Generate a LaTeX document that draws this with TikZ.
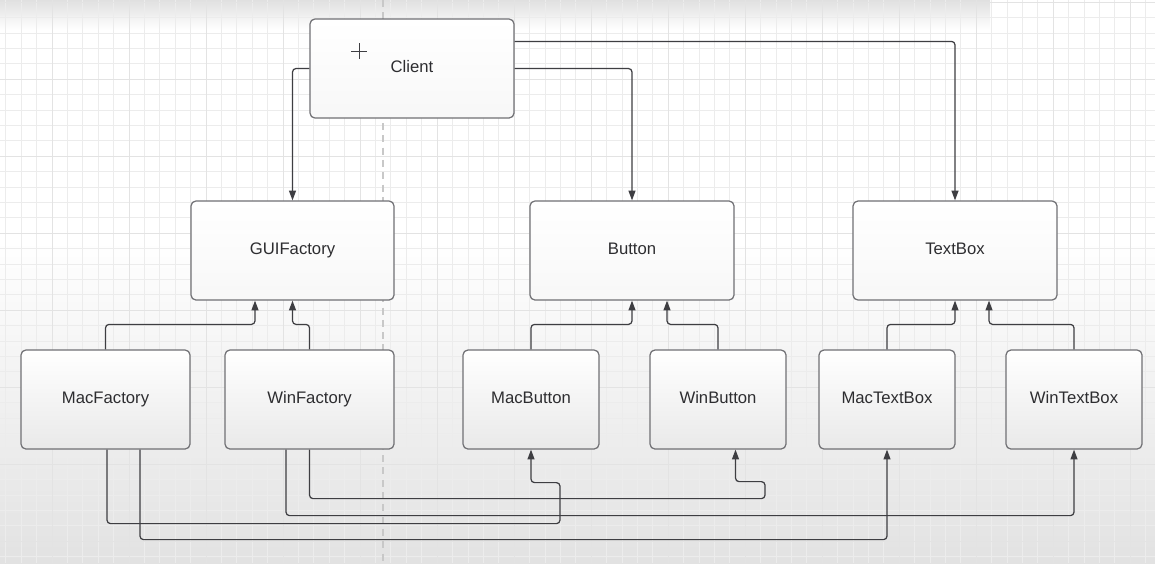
\documentclass[tikz,border=0pt]{standalone}
\usepackage{xcolor}
\usepackage{fontspec}
\setmainfont{Liberation Sans}
\usepackage{tikz}
\usetikzlibrary{arrows.meta, positioning, calc}
\definecolor{AFLine}{RGB}{62, 62, 66}
\definecolor{AFBorder}{RGB}{112, 112, 116}
\definecolor{AFText}{RGB}{45, 45, 48}
\definecolor{AFGrid}{RGB}{236, 236, 236}
\definecolor{AFGridMajor}{RGB}{227, 227, 227}
\definecolor{AFDash}{RGB}{200, 200, 200}
\definecolor{AFShade}{RGB}{226, 226, 226}
\definecolor{AFTopBand}{RGB}{224, 224, 224}
\definecolor{AFBoxLow}{RGB}{233, 233, 233}
\tikzset{
    classbox/.style={draw=AFBorder, line width=0.7pt, rounded corners=2.8pt, text=AFText,
      font=\fontsize{9.5}{11}\selectfont, minimum height=19.8mm, inner sep=0pt,
      text height=7pt, text depth=2pt},
    topbox/.style={classbox, top color=white, bottom color=white!97!black},
    lowbox/.style={classbox, top color=white, bottom color=AFBoxLow},
    link/.style={draw=AFLine, line width=0.7pt, rounded corners=2pt, -{Triangle[length=5.6pt, width=4pt]}},
    gridminor/.style={AFGrid, line width=0.35pt},
    gridmajor/.style={AFGridMajor, line width=0.5pt}
}

\begin{document}
\begin{tikzpicture}[x=0.2mm, y=-0.2mm]
    \path[use as bounding box] (0,0) rectangle (1155,563);
    \fill[white] (0,0) rectangle (1155,563);
    \shade[top color=white, bottom color=AFShade] (0,240) rectangle (1155,563);
    \shade[top color=AFTopBand, bottom color=white] (0,0) rectangle (990,30);
    \foreach \i in {0,...,74} {
        \draw[gridminor] ({5.8+15.4*\i},0) -- ++(0,563);
    }
    \foreach \i in {0,...,36} {
        \draw[gridminor] (0,{2+15.4*\i}) -- ++(1155,0);
    }
    \foreach \i in {0,...,14} {
        \draw[gridmajor] ({52+77*\i},0) -- ++(0,563);
    }
    \foreach \i in {0,...,7} {
        \draw[gridmajor] (0,{2+77*\i}) -- ++(1155,0);
    }
    \draw[AFDash, line width=0.7pt, dash pattern=on 4pt off 3pt] (383,0) -- (383,563);

    \node[topbox, minimum width=40.8mm] (Client) at (412,68.5) {Client};
    \node[topbox, minimum width=40.6mm] (GUIFactory) at (292.5,250.5) {GUIFactory};
    \node[topbox, minimum width=40.8mm] (Button) at (632,250.5) {Button};
    \node[topbox, minimum width=40.8mm] (TextBox) at (955,250.5) {TextBox};
    \node[lowbox, minimum width=33.8mm] (MacFactory) at (105.5,399.5) {MacFactory};
    \node[lowbox, minimum width=33.8mm] (WinFactory) at (309.5,399.5) {WinFactory};
    \node[lowbox, minimum width=27.2mm] (MacButton) at (531,399.5) {MacButton};
    \node[lowbox, minimum width=27.2mm] (WinButton) at (718,399.5) {WinButton};
    \node[lowbox, minimum width=27.2mm] (MacTextBox) at (887,399.5) {MacTextBox};
    \node[lowbox, minimum width=27.2mm] (WinTextBox) at (1074,399.5) {WinTextBox};

    \draw[AFLine, line width=0.8pt] ($(Client.north west)+(42,33)$) -- ++(16,0)
      ($(Client.north west)+(50,25)$) -- ++(0,16);

    \draw[link] (Client.west) -| (GUIFactory.north);
    \draw[link] (Client.east) -| (Button.north);
    \draw[link] ($(Client.north east)+(0,23)$) -| (TextBox.north);

    \draw[link] (MacFactory.north) -- ++(0,-25) -| ($(GUIFactory.south)+(-37.5,0)$);
    \draw[link] (WinFactory.north) -- ++(0,-25) -| (GUIFactory.south);
    \draw[link] (MacButton.north) -- ++(0,-25) -| (Button.south);
    \draw[link] (WinButton.north) -- ++(0,-25) -| ($(Button.south)+(35,0)$);
    \draw[link] (MacTextBox.north) -- ++(0,-25) -| (TextBox.south);
    \draw[link] (WinTextBox.north) -- ++(0,-25) -| ($(TextBox.south)+(34,0)$);

    \draw[link] ($(MacFactory.south)+(1.5,0)$) |- ($(MacButton.south)+(29,74)$)
      |- ($(MacButton.south)+(0,33)$) -- (MacButton.south);
    \draw[link] ($(MacFactory.south)+(34.5,0)$) |- ($(MacTextBox.south)+(0,90)$) -- (MacTextBox.south);
    \draw[link] ($(WinFactory.south)+(-23.5,0)$) |- ($(WinTextBox.south)+(0,66)$) -- (WinTextBox.south);
    \draw[link] (WinFactory.south) |- ($(WinButton.south)+(47,49)$)
      |- ($(WinButton.south)+(17.5,32)$) -- ($(WinButton.south)+(17.5,0)$);
\end{tikzpicture}
\end{document}
